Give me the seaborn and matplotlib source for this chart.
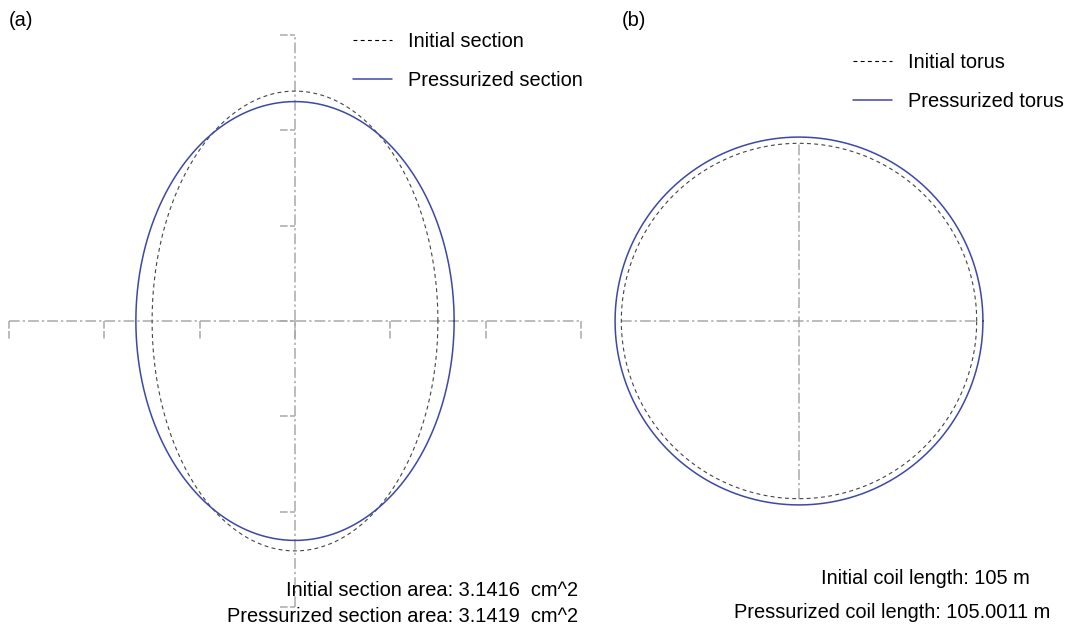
import numpy as np
import pandas as pd
import matplotlib
matplotlib.use("Agg")
import matplotlib.pyplot as plt
import seaborn as sns

# ---------------- data ----------------
# panel (a): cross-section semi-axes (tick step = 0.5)
section_labels = ["Initial section", "Pressurized section"]
section_semi_x = [0.749, 0.834]
section_semi_y = [1.205, 1.150]
section_ticks = [-1.5, -1.0, -0.5, 0.0, 0.5, 1.0, 1.5]
section_texts = ["Initial section area: 3.1416  cm^2",
                 "Pressurized section area: 3.1419  cm^2"]

# panel (b): torus radius (initial = 1)
torus_labels = ["Initial torus", "Pressurized torus"]
torus_radius = [1.0, 1.035]
torus_texts = ["Initial coil length: 105 m",
               "Pressurized coil length: 105.0011 m"]

panel_tags = ["(a)", "(b)"]

# ---------------- style ----------------
sns.set_theme(style="white")
FAM = ["Liberation Sans", "DejaVu Sans"]
FS = 14.4
plt.rcParams["font.family"] = FAM
plt.rcParams["text.color"] = "black"

W, H = 1068, 626
fig = plt.figure(figsize=(W / 100, H / 100), dpi=100)
fig.patch.set_facecolor("white")

BLUE = "#3f47a6"
DOT = "#444444"
AXC = "#a9a9a9"
dotted = (0, (3.5, 3))
dashdot = (0, (7, 2, 1.5, 2))


def px_axes(x0, x1):
    return fig.add_axes([x0 / W, 0, (x1 - x0) / W, 1])


def setup(ax, cx, cy, scale, x0, x1):
    ax.set_xlim((x0 - cx) / scale, (x1 - cx) / scale)
    ax.set_ylim(-(H - cy) / scale, cy / scale)
    ax.set_axis_off()


def curve(a, b, n=721):
    t = np.linspace(0, 2 * np.pi, n)
    return pd.DataFrame({"x": a * np.cos(t), "y": b * np.sin(t)})


leg_kw = dict(loc="upper left", bbox_transform=fig.transFigure, frameon=False,
              fontsize=FS, handlelength=1.95, handletextpad=0.8,
              labelspacing=1.0, borderpad=0, borderaxespad=0)

styles = [dict(color=DOT, lw=0.8, ls=dotted), dict(color=BLUE, lw=1.1, ls="-")]

# ---------------- panel (a) ----------------
ax1 = px_axes(0, 600)
setup(ax1, 295, 321, 190.8, 0, 600)
lo, hi = section_ticks[0], section_ticks[-1]
ax1.plot([lo, hi], [0, 0], color=AXC, lw=1.1, ls=dashdot, zorder=1)
ax1.plot([0, 0], [lo, hi], color=AXC, lw=1.1, ls=dashdot, zorder=1)
for t in section_ticks:
    ax1.plot([t, t], [0, -0.095], color=AXC, lw=1.1, ls=(0, (5, 1.5)), zorder=1)
    ax1.plot([-0.08, 0], [t, t], color=AXC, lw=1.1, ls=(0, (5, 1.5)), zorder=1)

for lab, a, b, st in zip(section_labels, section_semi_x, section_semi_y, styles):
    sns.lineplot(data=curve(a, b), x="x", y="y", sort=False, estimator=None, ax=ax1,
                 label=lab, color=st["color"], lw=st["lw"], linestyle=st["ls"], zorder=3)

leg1 = ax1.legend(bbox_to_anchor=(353 / W, 1 - 32 / H), **leg_kw)
leg1.get_lines()[0].set_color("black")

# ---------------- panel (b) ----------------
ax2 = px_axes(600, W)
setup(ax2, 799, 321, 177.7, 600, W)
r0 = torus_radius[0]
ax2.plot([-r0, r0], [0, 0], color=AXC, lw=1.1, ls=dashdot, zorder=1)
ax2.plot([0, 0], [-r0, r0], color=AXC, lw=1.1, ls=dashdot, zorder=1)
for lab, r, st in zip(torus_labels, torus_radius, styles):
    sns.lineplot(data=curve(r, r), x="x", y="y", sort=False, estimator=None, ax=ax2,
                 label=lab, color=st["color"], lw=st["lw"], linestyle=st["ls"], zorder=3)

leg2 = ax2.legend(bbox_to_anchor=(853 / W, 1 - 53 / H), **leg_kw)
leg2.get_lines()[0].set_color("black")

# ---------------- texts ----------------
fig.text(9 / W, 1 - 20 / H, panel_tags[0], fontsize=FS, va="center", ha="left")
fig.text(622 / W, 1 - 20 / H, panel_tags[1], fontsize=FS, va="center", ha="left")

fig.text(578 / W, 1 - 590 / H, section_texts[0], fontsize=FS, va="center", ha="right")
fig.text(578 / W, 1 - 617 / H, section_texts[1], fontsize=FS, va="center", ha="right")
fig.text(925 / W, 1 - 578 / H, torus_texts[0], fontsize=FS, va="center", ha="center")
fig.text(892 / W, 1 - 612 / H, torus_texts[1], fontsize=FS, va="center", ha="center")

fig.savefig("out.png", dpi=100, facecolor="white")
